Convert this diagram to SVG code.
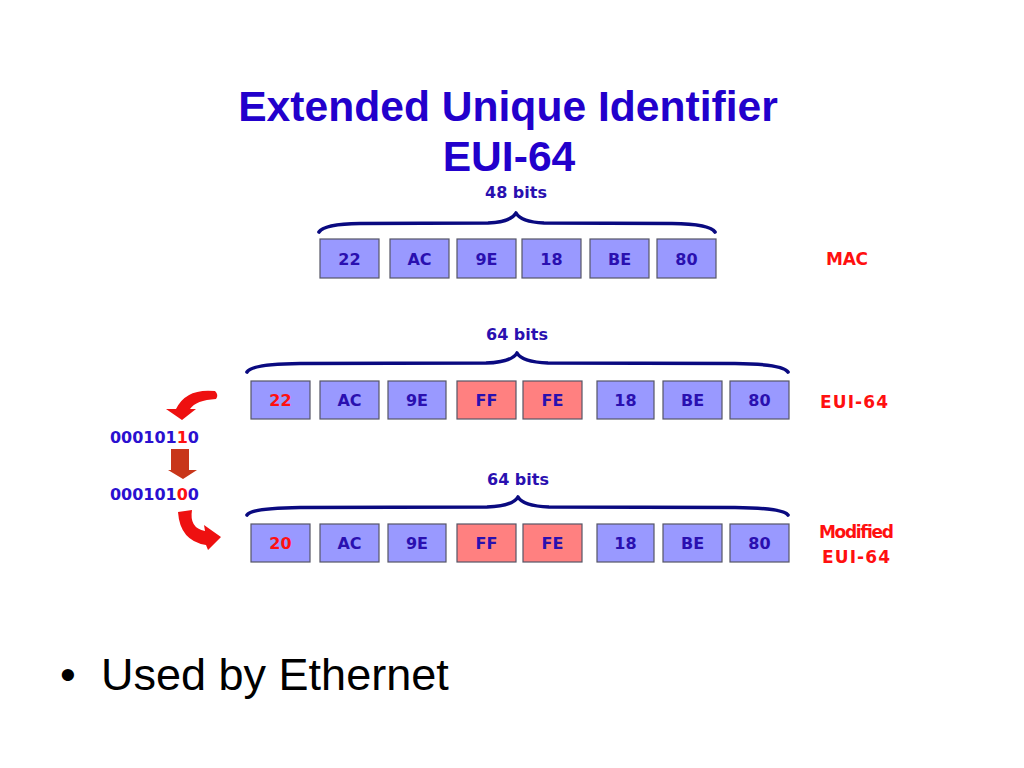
<svg xmlns="http://www.w3.org/2000/svg" width="1024" height="768" viewBox="0 0 1024 768">
<style>
.title{font-family:"Liberation Sans",Arial,sans-serif;font-weight:bold;font-size:42.6px;fill:#2200cc;text-anchor:middle}
.bx{stroke:#555566;stroke-width:1.2}
.blue{fill:#9999ff}
.pink{fill:#ff8080}
.t{font-family:"DejaVu Sans",sans-serif;font-weight:bold;font-size:16px;fill:#2a10b0;text-anchor:middle}
.tr{fill:#ff1010}
.lbl{font-family:"DejaVu Sans",sans-serif;font-weight:bold;font-size:17px;fill:#ff1010}
.bits{font-family:"DejaVu Sans",sans-serif;font-weight:bold;font-size:16px;fill:#2a10b0;text-anchor:middle}
.brace{fill:none;stroke:#0a0a80;stroke-width:3.6;stroke-linecap:round;stroke-linejoin:round}
.bin{font-family:"DejaVu Sans",sans-serif;font-weight:bold;font-size:16px;fill:#2a10d0}
.arr{fill:#ee1010}
.darr{fill:#c8361a}
.bullet{font-family:"Liberation Sans",Arial,sans-serif;font-size:45px;fill:#000}
</style>

<g id="title">
<text class="title" x="508" y="121">Extended Unique Identifier</text>
<text class="title" x="509" y="171">EUI-64</text>
</g>

<g id="connectors">
<path class="brace" d="M319 232 Q324 224 360 223.5 L488 223 Q511 222 516 213 Q521 222 544 223 L672 223.5 Q710 224 715 232"/>
<path class="brace" d="M247 372 Q252 364 300 363.5 L486 363 Q512 362 517 353 Q522 362 548 363 L735 363.5 Q783 364 788 372"/>
<path class="brace" d="M247 515 Q252 508 300 507.5 L487 507 Q513 506 518 497 Q523 506 549 507 L735 507.5 Q783 508 788 515"/>
<path id="arrow-top" class="arr" d="M215 391 Q186 388 176 409 L166 409 L182 420 L196 409 L190 409 Q196 400 216 399 Q219 395 215 391 Z"/>
<path id="arrow-down" class="darr" d="M171 449 L189 449 L189 470 L197 470 L183 479 L168 470 L171 470 Z"/>
<path id="arrow-bottom" class="arr" d="M192 510 Q189 528 205 531 L204 525 L221 537 L208 550 L206 545 Q180 541 178 512 Z"/>
</g>

<g id="bits48"><text class="bits" x="516" y="198">48 bits</text></g>
<g id="bits64a"><text class="bits" x="517" y="340">64 bits</text></g>
<g id="bits64b"><text class="bits" x="518" y="485">64 bits</text></g>

<g id="mac-row">
<g id="mac-22"><rect class="bx blue" x="320" y="239" width="59" height="39"/><text class="t" x="349.5" y="265">22</text></g>
<g id="mac-AC"><rect class="bx blue" x="390" y="239" width="59" height="39"/><text class="t" x="419.5" y="265">AC</text></g>
<g id="mac-9E"><rect class="bx blue" x="457" y="239" width="59" height="39"/><text class="t" x="486.5" y="265">9E</text></g>
<g id="mac-18"><rect class="bx blue" x="522" y="239" width="59" height="39"/><text class="t" x="551.5" y="265">18</text></g>
<g id="mac-BE"><rect class="bx blue" x="590" y="239" width="59" height="39"/><text class="t" x="619.5" y="265">BE</text></g>
<g id="mac-80"><rect class="bx blue" x="657" y="239" width="59" height="39"/><text class="t" x="686.5" y="265">80</text></g>
</g>

<g id="eui-row">
<g id="eui-22"><rect class="bx blue" x="251" y="381" width="59" height="38"/><text class="t tr" x="280.5" y="406">22</text></g>
<g id="eui-AC"><rect class="bx blue" x="320" y="381" width="59" height="38"/><text class="t" x="349.5" y="406">AC</text></g>
<g id="eui-9E"><rect class="bx blue" x="388" y="381" width="58" height="38"/><text class="t" x="417" y="406">9E</text></g>
<g id="eui-FF"><rect class="bx pink" x="457" y="381" width="59" height="38"/><text class="t" x="486.5" y="406">FF</text></g>
<g id="eui-FE"><rect class="bx pink" x="523" y="381" width="59" height="38"/><text class="t" x="552.5" y="406">FE</text></g>
<g id="eui-18"><rect class="bx blue" x="597" y="381" width="57" height="38"/><text class="t" x="625.5" y="406">18</text></g>
<g id="eui-BE"><rect class="bx blue" x="663" y="381" width="59" height="38"/><text class="t" x="692.5" y="406">BE</text></g>
<g id="eui-80"><rect class="bx blue" x="730" y="381" width="59" height="38"/><text class="t" x="759.5" y="406">80</text></g>
</g>

<g id="meui-row">
<g id="meui-20"><rect class="bx blue" x="251" y="524" width="59" height="38"/><text class="t tr" x="280.5" y="549">20</text></g>
<g id="meui-AC"><rect class="bx blue" x="320" y="524" width="59" height="38"/><text class="t" x="349.5" y="549">AC</text></g>
<g id="meui-9E"><rect class="bx blue" x="388" y="524" width="58" height="38"/><text class="t" x="417" y="549">9E</text></g>
<g id="meui-FF"><rect class="bx pink" x="457" y="524" width="59" height="38"/><text class="t" x="486.5" y="549">FF</text></g>
<g id="meui-FE"><rect class="bx pink" x="523" y="524" width="59" height="38"/><text class="t" x="552.5" y="549">FE</text></g>
<g id="meui-18"><rect class="bx blue" x="597" y="524" width="57" height="38"/><text class="t" x="625.5" y="549">18</text></g>
<g id="meui-BE"><rect class="bx blue" x="663" y="524" width="59" height="38"/><text class="t" x="692.5" y="549">BE</text></g>
<g id="meui-80"><rect class="bx blue" x="730" y="524" width="59" height="38"/><text class="t" x="759.5" y="549">80</text></g>
</g>

<g id="labels">
<text class="lbl" x="826" y="265" textLength="42">MAC</text>
<text class="lbl" x="820" y="408" textLength="68">EUI-64</text>
<text class="lbl" x="819" y="538" textLength="75">Modified</text>
<text class="lbl" x="822" y="563" textLength="68">EUI-64</text>
</g>

<g id="binary">
<text class="bin" x="110" y="443" textLength="89">000101<tspan fill="#ff1010">1</tspan>0</text>
<text class="bin" x="110" y="500" textLength="89">000101<tspan fill="#ff1010">0</tspan>0</text>
</g>

<g id="bullet">
<text class="bullet" x="60" y="690">•</text>
<text class="bullet" x="101" y="690">Used by Ethernet</text>
</g>
</svg>
